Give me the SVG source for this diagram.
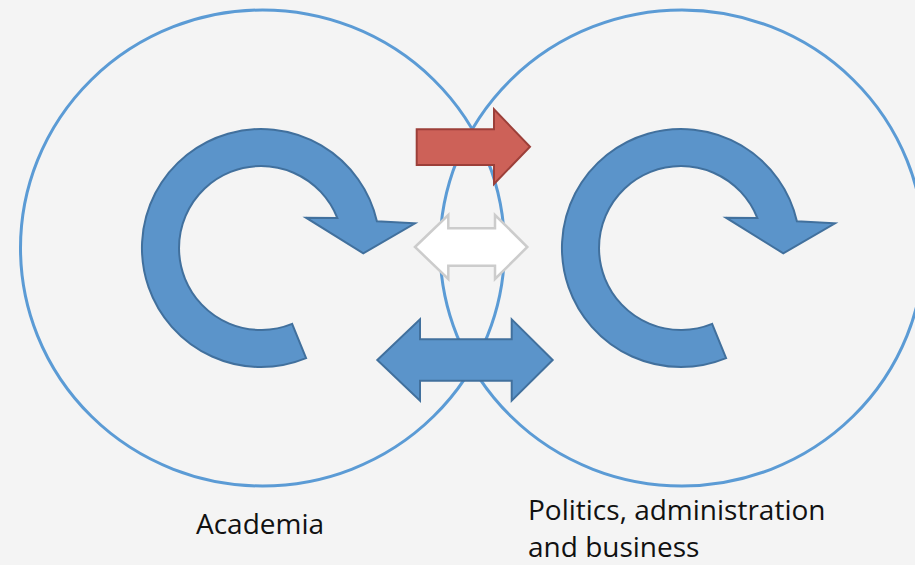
<svg xmlns="http://www.w3.org/2000/svg" width="915" height="565" viewBox="0 0 915 565">
<style>
.ring{fill:none;stroke:#5b9bd5;stroke-width:3}
.cyc{fill:#5b94ca;stroke:#41709d;stroke-width:2;stroke-linejoin:miter}
.lbl{font-family:"Open Sans","Noto Sans","Liberation Sans",sans-serif;font-size:28px;fill:#111}
</style>
<defs>
<path id="cycle" d="M 306.1,358.1 A 119 119 0 1 1 376.9,221.2 L 415,223.3 L 363.3,253.3 L 306,217.7 L 337.3,217.9 A 82 82 0 1 0 292.1,323.9 Z"/>
</defs>
<rect width="915" height="565" fill="#f4f4f4"/>
<g id="academia-ring"><ellipse class="ring" cx="262.5" cy="248" rx="242" ry="238"/></g>
<g id="business-ring"><ellipse class="ring" cx="682" cy="248" rx="242" ry="238"/></g>
<g id="academia">
<use href="#cycle" class="cyc"/>
<text class="lbl" x="196" y="534">Academia</text>
</g>
<g id="business">
<use href="#cycle" class="cyc" transform="translate(420,0)"/>
<text class="lbl" x="528" y="520"><tspan x="528">Politics, administration</tspan><tspan x="528" dy="37">and business</tspan></text>
</g>
<g id="connectors">
<polygon points="416.7,129.3 494,129.3 494,109.3 530,146.7 494,184 494,165 416.7,165" fill="#cd6158" stroke="#9c3f39" stroke-width="2"/>
<polygon points="415,247 448.3,215 448.3,228.3 495,228.3 495,215 527.3,247 495,279 495,265.7 448.3,265.7 448.3,279" fill="#ffffff" stroke="#cccccc" stroke-width="2.5"/>
<polygon points="377.3,360 420,319.3 420,339.3 511.7,339.3 511.7,319.3 552.7,360 511.7,400.7 511.7,380.7 420,380.7 420,400.7" fill="#5b94ca" stroke="#41709d" stroke-width="2"/>
</g>
</svg>
